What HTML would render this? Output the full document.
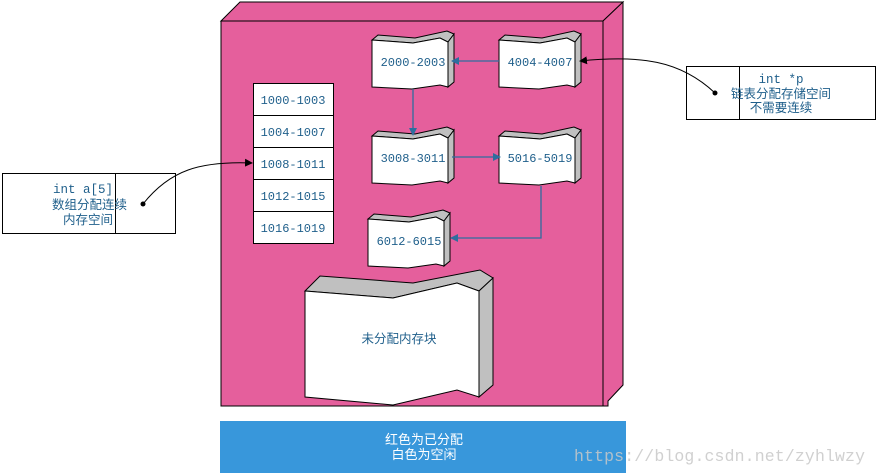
<!DOCTYPE html>
<html><head><meta charset="utf-8"><style>
html,body{margin:0;padding:0;background:#fff;width:876px;height:474px;overflow:hidden}
svg{display:block}
.t{font-family:"Liberation Mono","Noto Sans CJK SC",monospace;font-size:12px;fill:#1f5f8b}
.c{font-family:"Liberation Sans","Noto Sans CJK SC",sans-serif;font-size:12.5px;fill:#1f5f8b}
</style></head><body>
<svg width="876" height="474" viewBox="0 0 876 474" xmlns="http://www.w3.org/2000/svg">
<defs>
<g id="blk">
<path d="M0,9 L6,4 L43,7 L75,0 L82,3 L76,11 L68,7 L41,12 Z" fill="#c0c0c0" stroke="#000" stroke-width="1"/>
<path d="M76,11 L82,3 L82,51 L76,56 Z" fill="#c0c0c0" stroke="#000" stroke-width="1"/>
<path d="M0,9 L41,12 L68,7 L76,11 L76,56 L68,54 L40,58 L0,56 Z" fill="#fff" stroke="#000" stroke-width="1"/>
</g>
<marker id="ab" markerWidth="8" markerHeight="8" refX="7" refY="4" orient="auto" markerUnits="userSpaceOnUse"><path d="M0,0 L8,4 L0,8 Z" fill="#2e6e9e"/></marker>
<marker id="ak" markerWidth="8" markerHeight="8" refX="7" refY="4" orient="auto" markerUnits="userSpaceOnUse"><path d="M0,0 L8,4 L0,8 Z" fill="#000"/></marker>
</defs>
<path d="M221,21 L240,2 L623,2 L603,21 Z" fill="#e55f9c" stroke="#000"/>
<path d="M603,21 L623,2 L623,385 L608,401 L608,406 L603,406 Z" fill="#e55f9c" stroke="#000"/>
<rect x="221" y="21" width="382" height="385" fill="#e55f9c" stroke="#000"/>
<g fill="#fff" stroke="#000">
<rect x="253.5" y="83.5" width="80" height="32"/><rect x="253.5" y="115.5" width="80" height="32"/>
<rect x="253.5" y="147.5" width="80" height="32"/><rect x="253.5" y="179.5" width="80" height="32"/>
<rect x="253.5" y="211.5" width="80" height="32"/>
</g>
<g class="t" text-anchor="middle">
<text x="293" y="104">1000-1003</text><text x="293" y="136">1004-1007</text>
<text x="293" y="168">1008-1011</text><text x="293" y="200">1012-1015</text>
<text x="293" y="232">1016-1019</text>
</g>
<use href="#blk" x="372" y="31"/><use href="#blk" x="499" y="31"/>
<use href="#blk" x="372" y="127"/><use href="#blk" x="499" y="127"/>
<use href="#blk" x="368" y="210"/>
<g class="t" text-anchor="middle">
<text x="413" y="66">2000-2003</text><text x="540" y="66">4004-4007</text>
<text x="413" y="162">3008-3011</text><text x="540" y="162">5016-5019</text>
<text x="409" y="245">6012-6015</text>
</g>
<path d="M305,291 L320,276 L413,283 L480,270 L493,278 L479,291 L457,283 L393,298 Z" fill="#c0c0c0" stroke="#000"/>
<path d="M479,291 L493,278 L493,385 L479,397 Z" fill="#c0c0c0" stroke="#000"/>
<path d="M305,291 L393,298 L457,283 L479,291 L479,397 L457,390 L393,405 L305,397 Z" fill="#fff" stroke="#000"/>
<text class="c" x="399" y="343" text-anchor="middle" font-size="13">未分配内存块</text>
<g stroke="#2e6e9e" stroke-width="1.3" fill="none">
<path d="M499,61 L452,61" marker-end="url(#ab)"/>
<path d="M413,89 L413,135" marker-end="url(#ab)"/>
<path d="M452,157 L500,157" marker-end="url(#ab)"/>
<path d="M541,186 L541,238 L451,238" marker-end="url(#ab)"/>
</g>
<rect x="2.5" y="173.5" width="173" height="60" fill="#fff" stroke="#000"/>
<line x1="115.5" y1="173" x2="115.5" y2="234" stroke="#000"/>
<g class="c" text-anchor="end">
<text x="113" y="193" font-family="Liberation Mono,monospace">int a[5]</text>
<text x="127" y="209">数组分配连续</text>
<text x="113" y="224">内存空间</text>
</g>
<circle cx="143" cy="204" r="2.5" fill="#000"/>
<path d="M143,204 C170,170 200,161 252,163" stroke="#000" fill="none" marker-end="url(#ak)"/>
<rect x="686.5" y="66.5" width="189" height="53" fill="#fff" stroke="#000"/>
<line x1="739.5" y1="66" x2="739.5" y2="120" stroke="#000"/>
<g class="c" text-anchor="middle">
<text x="781" y="83" font-family="Liberation Mono,monospace">int *p</text>
<text x="781" y="98">链表分配存储空间</text>
<text x="781" y="112">不需要连续</text>
</g>
<circle cx="715" cy="93" r="2.5" fill="#000"/>
<path d="M715,93 C680,60 640,55 580,61" stroke="#000" fill="none" marker-end="url(#ak)"/>
<rect x="220" y="421" width="406" height="52" fill="#3897db"/>
<g font-family="Liberation Sans,Noto Sans CJK SC,sans-serif" font-size="13" fill="#fff" text-anchor="middle">
<text x="424" y="444">红色为已分配</text>
<text x="424" y="459">白色为空闲</text>
</g>
<text x="574" y="461" font-family="Liberation Mono,monospace" font-size="16.5" fill="#c8c8c8" fill-opacity="0.85" textLength="291">https://blog.csdn.net/zyhlwzy</text>
</svg>
</body></html>
